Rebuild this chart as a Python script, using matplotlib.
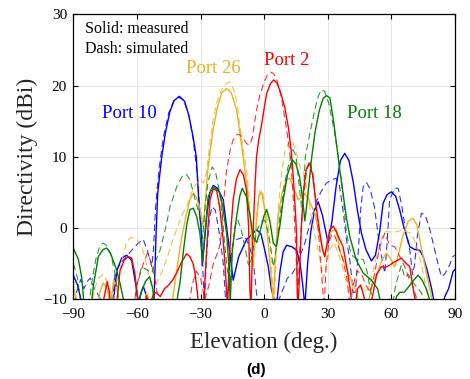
import numpy as np
import matplotlib
matplotlib.use("Agg")
import matplotlib.pyplot as plt

plt.rcParams['font.family'] = ['Liberation Serif', 'DejaVu Serif']

# elevation (deg), directivity (dBi)
p10_meas = [[-90,-6.6],[-88,-8],[-86,-10.5],[-84,-12],[-72,-12],[-71,-10],[-69.5,-6],[-67.2,-4.2],[-64.8,-3.8],
            [-62.5,-4.5],[-60.5,-8],[-59.4,-10.5],[-58,-9],[-57,-8.2],[-55.5,-9.5],[-54,-12],[-52.3,-12],[-51.8,-9],
            [-51,-1],[-50.2,4.9],[-48.3,10],[-46.5,13.5],[-44.5,16.3],[-42.5,17.9],[-40,18.5],[-37.5,17.8],[-35.5,15.8],
            [-33.5,12.8],[-32,10],[-30.6,2.6],[-29.5,-0.7],[-29.2,-5.2],[-28.2,-2],[-26.8,2.5],[-25.6,4.9],[-24,6],
            [-22,5.6],[-19.3,4],[-17,-1.5],[-14.6,-7.3],[-12,-4],[-8.3,-1.6],[-5.5,-0.8],[-3.6,-0.2],[-1.5,-0.8],
            [0.3,-3.1],[2,-5.5],[3.5,-8.7],[5.8,-11],[7.5,-6],[9,-3.3],[10.6,-2.4],[13,-2.6],[15.3,-3.1],[17,-5],
            [18.2,-8],[19.2,-11],[20.5,-5],[22,-0.5],[23.8,2.5],[25.5,3.7],[27.5,1.8],[30.2,-2.1],[32,1],[34,6],
            [36,9.5],[38,10.5],[40,9.5],[42,6.5],[44,2.5],[45.9,-0.7],[48,-3],[50.6,-4.6],[52.5,-3.8],[54.5,-0.5],
            [56.1,3.5],[58,4.7],[60,5.1],[62,4.5],[64,2.5],[66,0],[68.7,-2.6],[71,-3],[73.4,-3.1],[75,-4],[77,-6],
            [79,-8.5],[80.5,-11],[83.5,-12],[85.2,-9.6],[87,-8.5],[89.1,-6.1],[90,-5.8]]
p10_sim = [[-90,-12],[-88.5,-9],[-86.5,-7.2],[-85,-8.5],[-83.5,-7.5],[-82,-7],[-80,-8.5],[-77.4,-9.8],[-76,-12],
           [-72,-12],[-70.3,-6.3],[-68,-5],[-65,-4],[-62.5,-3.1],[-59.4,-2.1],[-57,-1.6],[-55,-3.2],[-53,-5.4],
           [-52.2,-3],[-51.2,3],[-49.5,8.5],[-47.5,12.8],[-45,16.2],[-42.5,17.9],[-40.5,18.4],[-38,18],[-35.5,15.8],
           [-33.5,12.5],[-31.5,7.5],[-30,1],[-29,-5],[-28.2,-11],[-27.2,-4],[-25.8,1.5],[-24.5,3],[-23,2.5],[-21,-1],
           [-19.3,-4.9],[-18.2,-10],[-17.5,-11],[-16.2,-5],[-14.6,-2.1],[-13,-1.6],[-11,-1.4],[-9,-1.2],[-7,-2.5],
           [-5.2,-4.4],[-3.3,-10],[-2.5,-12],[5,-12],[7,-10],[9,-8.5],[11,-7],[13,-6.5],[15,-5.5],[17,-3.8],
           [19.2,-2.1],[21,0],[23,2],[24.4,3.6],[27,5.2],[29.3,6.3],[32,6.8],[34,7],[35.5,6],[37.2,2.5],[38.8,-1.5],
           [40.4,-4.5],[42,-9],[43,-9],[44.5,-3],[45.5,2.5],[46.7,5.8],[48.3,6.4],[50,5.5],[52,3],[54.5,-2.6],
           [56.9,-6.3],[58,-2],[59.2,4],[61.6,5.6],[63.2,5.6],[65,3],[66.5,0],[68.7,-3.1],[70,-6.5],[71,-5],
           [72.3,-1],[74.2,2.1],[76,1.8],[78,0],[80.5,-3.1],[82,-5],[83.6,-6.8],[85,-6.5],[87,-5.5],[89,-4],[90,-3.8]]

p26_meas = [[-90,-8.2],[-88.5,-10],[-87,-12],[-79,-12],[-77.5,-9],[-75.9,-7.7],[-74,-8.5],[-72.5,-11],[-71,-7.3],
            [-69.5,-8],[-68,-12],[-57,-12],[-55.5,-9],[-54,-10.5],[-52.5,-12],[-44,-12],[-42.5,-8.5],[-41.3,-6],
            [-39,-1.5],[-36.6,2],[-35,4],[-33.4,4.9],[-31.8,4.2],[-30.3,2.8],[-28.7,0.2],[-27.8,3.5],[-26.8,7.5],
            [-25.6,10.5],[-24,14],[-22,17],[-20,19],[-17.7,19.6],[-15.5,19],[-13,16.6],[-11.5,13.5],[-9.9,10],
            [-7.7,4.9],[-6.2,0],[-5.2,-5.4],[-4,-0.5],[-2.5,4.5],[-1.2,5.1],[0.3,2.6],[2,-2.5],[3.5,-7.5],[4.3,-10.5],
            [5.5,-3],[6.6,1.6],[8.5,5],[10.6,6.8],[12.1,7],[14,5.6],[16,4],[17.5,4.3],[19.2,4.9],[21,4],[23.9,2.1],
            [26,-0.8],[28.6,-4],[30,-1.5],[31.5,-0.5],[34,-0.2],[35.7,-3.2],[38,-5],[40.4,-6.8],[43,-8.5],[45,-10.5],
            [47,-12],[49,-10.5],[51,-8],[53,-6.8],[55.5,-4.5],[57.7,-3.5],[59.5,-4.2],[61.6,-5.4],[63.5,-3.5],
            [65.5,-1],[68,1],[70.2,1.4],[72,0.5],[74,-2.5],[76.5,-6.3],[78.5,-9],[80,-11],[81,-12]]
p26_sim = [[-90,-12],[-82,-12],[-80,-8.5],[-78,-7],[-76,-6.5],[-74,-7.5],[-72,-9.5],[-71,-10],[-69.5,-7.7],
           [-67,-4.5],[-64.8,-1.8],[-62.5,-1.3],[-60,-1.6],[-57.5,-2.8],[-55.5,-5],[-54,-7],[-52.5,-9],[-50.7,-7.7],
           [-48,-6],[-46,-4.4],[-43.5,-2],[-41.3,-0.2],[-38.5,2],[-36.6,3],[-34.5,4.8],[-32.5,6],[-30.3,6.8],
           [-28.5,6.3],[-27.1,8],[-25.8,11.5],[-24.5,14.5],[-22.5,17.5],[-20.5,19.2],[-18,20.3],[-16.1,20.5],
           [-14,19.2],[-12.5,17],[-11.4,14.2],[-9.8,11],[-8.3,8.2],[-7,4],[-6,0.2],[-5,-4],[-4.2,-1],[-3,3.5],
           [-2,5.3],[-0.5,4.8],[0.3,3],[1.9,0.7],[3,-3],[4,-8],[4.8,-11],[5.8,-2],[7,4],[8.5,8.5],[10,11],[12,12.3],
           [13.5,12.1],[15.3,10.5],[17,8.5],[18.4,8],[20,5.8],[22,2],[24,-1],[26,-4],[28,-7],[29.5,-5],[31,-3],
           [33,-2],[35,-3.5],[37,-5.5],[39,-7.8],[41,-9],[43,-7],[45,-7.5],[47,-9],[49,-8.5],[51,-6.5],[53,-4],
           [55,-2],[56.1,-0.7],[58,-0.4],[60,-0.6],[62.4,-0.5],[65,-0.3],[67,-0.5],[69.5,-0.7],[71,-1.8],
           [72.6,-3.1],[75,-6.3],[77,-9.5],[78,-12]]

p2_meas = [[-90,-12],[-77,-12],[-75,-9],[-74,-7.5],[-73,-9],[-72,-12],[-70,-12],[-68,-6],[-66,-4.5],[-64,-4],
           [-62.5,-4.2],[-61,-6.3],[-59.4,-10.5],[-58.5,-12],[-56.5,-12],[-55.5,-9.5],[-54,-11],[-52,-9],
           [-50.7,-9.1],[-49,-9.6],[-47,-8.5],[-45,-8],[-43,-7.2],[-41.3,-6.3],[-39,-4.8],[-36.6,-3.6],[-35,-4],
           [-33.5,-5],[-32.6,-6.3],[-31.5,-9],[-31,-11],[-28.5,-11],[-27.5,-5],[-26.5,0],[-25.5,4],[-24,5.5],
           [-22.4,5.3],[-21,3],[-19.5,-1],[-18.5,-4.9],[-17.3,-11],[-16.5,-5],[-15.5,0.5],[-14.6,4],[-13,7],
           [-11.4,8.2],[-9.8,7.5],[-8.3,5.3],[-7.3,0],[-6.7,-8.7],[-6.2,-11],[-5.5,-3],[-5,1],[-4.3,6],[-3.6,10],
           [-2.5,12.5],[-1.2,14.5],[0,16.8],[1.2,18.9],[3,20.3],[4.5,20.8],[6,20.4],[7.5,19.3],[9.7,17],[11.5,14],
           [12.9,10.5],[14,6],[14.8,2],[15.3,-1],[15.6,-9],[15.9,-11],[16.5,-8],[17.5,0],[18.5,5],[19.8,8.2],
           [21.5,9.1],[22.8,7.5],[23.9,4.9],[25,2],[26.3,-0.7],[27.5,-3],[28.6,-4],[29.8,-2],[31,-0.2],[32.6,0.3],
           [34,-0.5],[35.5,-1.5],[37.2,-2.6],[39,-5.5],[40.4,-8.2],[41.5,-11],[43,-11],[44,-8.5],[45.5,-8],
           [47,-9.5],[48,-11],[50,-11],[51.5,-9],[53,-6.5],[55.3,-5.4],[57,-5.5],[59.2,-5.2],[61,-4.8],[63,-4.5],
           [64.7,-4.2],[66.5,-4.8],[68.7,-5.4],[70,-8],[71.5,-10.5],[72,-12]]
p2_sim = [[-90,-12],[-62,-12],[-60,-8],[-57,-5],[-55,-3.5],[-53,-5],[-51,-8],[-49,-12],[-36,-12],[-34,-8],
          [-32,-6],[-30,-7],[-28,-10],[-26,-8],[-24,-5],[-22,-3.5],[-20.5,-2],[-19.3,3],[-17.7,8.2],[-16,11],
          [-14.6,12.4],[-12.5,13.2],[-11,13],[-9.5,12.4],[-8,11.8],[-6.7,11.7],[-5.5,12.8],[-3.6,16.6],[-2,18.7],
          [0,20.5],[1.5,21.5],[3,21.9],[4.5,21.7],[6,20.8],[8,18.5],[10,15],[11.5,12],[12.8,8.5],[14,3],
          [15.3,-5.4],[16,-9],[16.8,-3],[17.6,0.2],[18.8,5],[20.2,8.5],[21.5,9.5],[23.1,7.5],[24.5,3.5],
          [26.3,-3.1],[27.5,-8],[28.3,-11],[29.3,-5],[30.5,-2],[32,-0.8],[33.5,-1.2],[35,-2.5],[37.2,-4.5],
          [39,-7],[40.5,-11],[42,-8],[44,-6],[46,-6.5],[48,-8],[50,-9],[52,-6.5],[54.5,-2.6],[56.9,-0.7],
          [59.2,-2.4],[61.6,-2.6],[64,-4],[66.3,-5.4],[68.2,-7],[70.2,-8.2],[72,-10],[73,-12]]

p18_meas = [[-90,-2.8],[-87.6,-4.4],[-86,-7],[-85,-10.5],[-84,-12],[-82,-12],[-80.5,-8],[-78.2,-4],[-76,-3],
            [-74.3,-2.8],[-72.5,-3.5],[-70,-5.5],[-68,-7.7],[-66,-10.5],[-65,-12],[-60,-12],[-58,-9],[-56,-7.5],
            [-54,-6.8],[-52.5,-8.5],[-51.5,-11],[-42,-12],[-40.5,-9],[-39.7,-7.7],[-38,-3],[-36.5,0.5],[-35,2.6],
            [-33.4,2.8],[-31.8,1.6],[-30.3,-0.7],[-29,-4.9],[-28,-1],[-26.4,4.4],[-24.5,5.7],[-23,5.6],[-21,5],
            [-19.5,3],[-17.7,-0.7],[-16.7,-5],[-16,-10.5],[-15,-3],[-13,1.6],[-11.5,4.5],[-10.3,5.6],[-8.3,4.4],
            [-6.5,1.5],[-5.2,-1.2],[-3.5,-2],[-1.5,0],[0,1.8],[1.2,2.6],[2.7,1],[4.3,-2.1],[5.8,-2.6],[7.5,0.5],
            [9,4],[11,7.5],[13.3,9.6],[15,9],[16.7,7.2],[18,4.5],[19.2,1],[20,3],[20.7,4.9],[22.3,9.6],[24,13.5],
            [26,16.5],[27.8,18.2],[29.4,18.6],[31,18.3],[32.5,15.5],[34.1,11.9],[35.5,8.5],[37.2,4.9],[38.8,1.5],
            [40.4,-1.2],[43.5,-4.5],[46.7,-6.3],[50.6,-7.3],[53.5,-8.5],[55,-10.5],[56,-12],[61,-12],[62.4,-9.6],
            [64,-9],[66,-9],[68,-8.3],[70,-7.5],[72.6,-6.6],[74.5,-7.3],[76.5,-8.5],[78.5,-10.5],[79.5,-12],
            [86,-12],[88,-10],[90,-10.5]]
p18_sim = [[-90,-5],[-88,-7],[-86.5,-10.5],[-85,-12],[-83,-12],[-81.5,-8],[-79.5,-4.5],[-77.5,-2.5],[-75.9,-2.1],
           [-74,-2.5],[-72,-4],[-70,-7],[-68.5,-10.5],[-67,-12],[-62,-12],[-60,-8],[-57.8,-5.4],[-55.5,-5.8],
           [-53,-6.3],[-51,-4.5],[-49.1,-3.1],[-46.5,0],[-44.4,3],[-41,6],[-38.2,7.5],[-36.5,7.5],[-35,6.8],
           [-32.5,4],[-30.3,1.6],[-29,-1.5],[-28,2.5],[-26.5,6.5],[-24.5,8.6],[-23,8],[-21,5],[-19.5,1],[-18.5,-2.6],
           [-17.3,-6],[-16,-8],[-15,-3],[-13.8,0.2],[-12.5,1.2],[-11,0],[-9.1,-2.6],[-7.5,-5],[-6.7,-5.4],[-5,-2.5],
           [-3,0],[-1,1],[0.3,1.1],[1.8,-0.5],[3,-2.5],[4.3,-5.4],[5.8,-2.8],[7.4,1.6],[9.5,6],[11.3,8.6],
           [13.6,11],[15,10.2],[16.5,6],[17.6,3],[18.6,5],[19.4,10],[21.5,13.2],[23.9,16.6],[25.5,18.5],[27,19.4],
           [28.5,19.2],[30.5,17.5],[33.3,13.3],[35,10],[37.2,4.9],[38.8,-0.7],[40.5,-3],[42,-4],[44,-4.3],
           [46.7,-4.4],[48.5,-6],[50,-8.5],[51.5,-11],[52.5,-12],[60,-12],[62,-8],[64.7,-5.2],[66.3,-6.9],
           [68,-6.5],[70,-7.5],[71.8,-8.2],[74,-9],[76,-10.5],[77,-12]]

ports = ['Port 10', 'Port 26', 'Port 2', 'Port 18']
colors = ['#0000FF', '#EDB120', '#FF0000', '#008000']
measured = [p10_meas, p26_meas, p2_meas, p18_meas]
simulated = [p10_sim, p26_sim, p2_sim, p18_sim]
label_pos = [(-63.4, 15.45), (-24.2, 21.8), (10.6, 22.9), (52.2, 15.45)]

fig = plt.figure(figsize=(4.7, 3.79), dpi=100)
ax = fig.add_axes([0.156, 0.210, 0.812, 0.752])

for c, me, si in zip(colors, measured, simulated):
    s = np.array(si)
    ax.plot(s[:, 0], s[:, 1], color=c, lw=0.8, dashes=(6, 3.5), alpha=0.8)
    m = np.array(me)
    ax.plot(m[:, 0], m[:, 1], color=c, lw=1.0)

for name, c, (x, y) in zip(ports, colors, label_pos):
    ax.text(x, y, name, color=c, fontsize=13.5, ha='center', va='baseline')

ax.text(-84.5, 27.4, 'Solid: measured', fontsize=11.5, va='baseline')
ax.text(-84.5, 24.6, 'Dash: simulated', fontsize=11.5, va='baseline')

ax.set_xlim(-90, 90)
ax.set_ylim(-10, 30)
ax.set_xticks(np.arange(-90, 91, 30))
ax.set_yticks(np.arange(-10, 31, 10))
ax.grid(True, color='#e3e3e3', lw=0.6)
ax.set_axisbelow(True)
ax.tick_params(direction='in', length=3.5, width=0.8, top=True, right=True, labelsize=11)
ax.tick_params(axis='x', pad=6)
ax.tick_params(axis='y', pad=4.5)
for sp in ax.spines.values():
    sp.set_linewidth(0.9)

fig.text(0.5615, 1 - 348 / 379, 'Elevation (deg.)', fontsize=16.5, ha='center', va='baseline', color='#262626')
fig.text(0.0574, 0.586, 'Directivity (dBi)', fontsize=17, ha='center', va='center', rotation=90, color='#262626')
fig.text(256 / 470, 1 - 370 / 379, '(d)', fontsize=11, fontweight='bold', ha='center', va='center',
         family=['Liberation Sans', 'DejaVu Sans'])

fig.savefig('out.png', dpi=100)
